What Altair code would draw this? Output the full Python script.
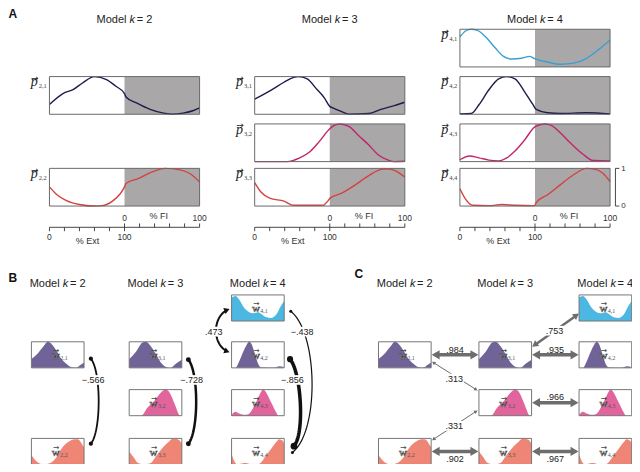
import math
import altair as alt
import pandas as pd

# ---------------------------------------------------------------- data
MODEL_K = [2, 3, 4]

# Panel A profiles: position in % of the panel (0-50 = % Ext, 50-100 = % FI), value 0..1
p21_x = [0, 9, 16, 22, 30, 38, 44, 50, 51, 58, 67, 76, 82, 89, 96, 100]
p21_v = [0.26, 0.55, 0.66, 0.83, 1.0, 0.92, 0.75, 0.55, 0.46, 0.30, 0.13, 0.03, 0.0, 0.03, 0.10, 0.17]
p22_x = [0, 5, 11, 20, 29, 35, 42, 47, 50, 51, 59, 68, 77, 87, 94, 100]
p22_v = [0.51, 0.30, 0.15, 0.04, 0.0, 0.01, 0.13, 0.32, 0.51, 0.60, 0.73, 0.90, 1.0, 0.96, 0.85, 0.64]
p31_x = [0, 11, 19.5, 26, 29, 35, 41, 46.5, 50, 52, 58, 63, 76, 84, 93, 100]
p31_v = [0.40, 0.64, 0.85, 0.98, 1.0, 0.94, 0.68, 0.43, 0.21, 0.17, 0.07, 0.0, 0.02, 0.13, 0.23, 0.32]
p32_x = [0, 21.6, 30, 37, 43, 50, 53, 57, 63, 69, 76, 82, 89, 93, 100]
p32_v = [0, 0, 0.10, 0.27, 0.53, 0.87, 0.96, 1.0, 0.93, 0.70, 0.44, 0.19, 0.04, 0, 0.01]
p33_x = [0, 4, 10, 19.5, 26, 45.5, 48.7, 50.2, 58, 67, 76, 85.5, 90, 95, 100]
p33_v = [0.62, 0.38, 0.21, 0.13, 0.02, 0.02, 0.13, 0.21, 0.34, 0.56, 0.81, 0.98, 0.98, 0.91, 0.77]
p41_x = [0, 4, 7.4, 11.7, 17, 23.6, 29, 34.5, 41, 46.4, 49.7, 58.4, 67, 75.7, 84.4, 93, 100]
p41_v = [0.80, 0.96, 1.0, 0.97, 0.80, 0.50, 0.28, 0.21, 0.23, 0.28, 0.22, 0.13, 0.07, 0.10, 0.23, 0.48, 0.71]
p42_x = [0, 7.4, 12.8, 19.3, 25.8, 31.2, 36.7, 43.2, 48.6, 50.8, 58.4, 67, 84.4, 100]
p42_v = [0.01, 0.02, 0.26, 0.65, 0.94, 1.0, 0.94, 0.59, 0.26, 0.13, 0.04, 0.02, 0.04, 0.01]
p43_x = [0, 6.3, 12.8, 19.3, 25.8, 31.2, 36.7, 43.2, 50.1, 56.2, 60.5, 67, 73.5, 82.2, 88.7, 100]
p43_v = [0.05, 0.15, 0.10, 0.04, 0.02, 0.10, 0.28, 0.58, 0.93, 1.0, 0.97, 0.76, 0.50, 0.19, 0.03, 0.02]
p44_x = [0, 4, 8.5, 19.3, 28, 36.7, 49.7, 50.8, 58.4, 67, 75.7, 84.4, 89.8, 95.2, 100]
p44_v = [0.46, 0.17, 0.02, 0.01, 0.04, 0.02, 0.01, 0.09, 0.30, 0.57, 0.83, 1.0, 0.98, 0.87, 0.65]

# Panels B/C weight shapes: position in % of the thumbnail, value 0..1
w21_x = [0, 11, 23.5, 31, 39, 48, 57, 67, 76, 85, 93, 100]
w21_v = [0.34, 0.53, 0.84, 1.0, 0.90, 0.65, 0.34, 0.15, 0.03, 0.01, 0.11, 0.21]
w22_x = [0, 11, 23.5, 36, 48, 57, 69, 82, 88, 96, 100]
w22_v = [0.35, 0.10, 0.0, 0.06, 0.29, 0.60, 0.85, 0.97, 0.97, 0.79, 0.66]
w31_x = [0, 13.6, 26, 32, 41, 51, 60, 72, 78, 88, 100]
w31_v = [0.33, 0.64, 0.98, 1.0, 0.83, 0.52, 0.21, 0.02, 0.0, 0.15, 0.31]
w32_x = [0, 22.8, 35, 47.5, 60, 69, 75, 81.5, 87.7, 94, 97, 100]
w32_v = [0, 0, 0.31, 0.56, 0.88, 1.0, 0.94, 0.69, 0.38, 0.06, 0, 0]
w33_x = [0, 7.4, 16.7, 29, 41, 50.6, 60, 72, 84, 93, 100]
w33_v = [0.5, 0.31, 0.06, 0.0, 0.06, 0.31, 0.56, 0.81, 1.0, 0.96, 0.81]
w41_x = [0, 7.4, 13.6, 22.8, 32, 41.4, 50.6, 56.8, 66, 75.3, 84.6, 92.6, 100]
w41_v = [0.90, 0.96, 0.84, 0.54, 0.36, 0.30, 0.34, 0.27, 0.14, 0.12, 0.24, 0.54, 0.78]
w42_x = [0, 7.4, 13.6, 22.8, 29, 33.3, 38.3, 44.4, 50.6, 56.8, 81.5, 90.7, 100]
w42_v = [0, 0, 0.21, 0.65, 0.90, 1.0, 0.90, 0.53, 0.15, 0.02, 0.01, 0.06, 0.02]
w43_x = [0, 7.4, 13.6, 22.8, 32, 41.4, 50.6, 56.8, 60, 66, 72.2, 78.4, 84.6, 89, 100]
w43_v = [0.03, 0.15, 0.09, 0.04, 0.06, 0.31, 0.69, 0.94, 1.0, 0.88, 0.63, 0.38, 0.13, 0, 0]
w44_x = [0, 4.3, 10.5, 26, 38.3, 50.6, 56.8, 66, 75.3, 84.6, 90.7, 97, 100]
w44_v = [0.41, 0.16, 0.01, 0.06, 0.01, 0.01, 0.10, 0.35, 0.60, 0.85, 0.97, 0.91, 0.79]

# correlations
B_LABELS = ["\u2212.566", "\u2212.728", "\u2212.856", "\u2212.438", ".473"]
C_LABELS = [".984", ".935", ".966", ".902", ".967", ".753", ".313", ".331"]

EXT_TICKS = ["0", "100"]
FI_TICKS = ["0", "100"]
SCALE_TICKS = ["0", "1"]

# ---------------------------------------------------------------- styles / layout
NAVY, MAG, RED, CYAN = "#1e1c4c", "#c2256d", "#d6403f", "#3a9fd0"
PURP, PINK, SALM, CYANF = "#6f6397", "#e2649d", "#ee8575", "#4cb7e1"
SHADE, BOXLINE = "#a9a7a8", "#6a6a6a"
BLACK, GREYARROW = "#111111", "#6d6d6d"
SANS, SERIF, SYM = "Liberation Sans", "Liberation Serif", "DejaVu Sans"

A_comps = [(2, 1, 1, p21_x, p21_v, NAVY), (2, 2, 3, p22_x, p22_v, RED),
           (3, 1, 1, p31_x, p31_v, NAVY), (3, 2, 2, p32_x, p32_v, MAG), (3, 3, 3, p33_x, p33_v, RED),
           (4, 1, 0, p41_x, p41_v, CYAN), (4, 2, 1, p42_x, p42_v, NAVY),
           (4, 3, 2, p43_x, p43_v, MAG), (4, 4, 3, p44_x, p44_v, RED)]
W_comps = [(2, 1, 1, w21_x, w21_v, PURP), (2, 2, 3, w22_x, w22_v, SALM),
           (3, 1, 1, w31_x, w31_v, PURP), (3, 2, 2, w32_x, w32_v, PINK), (3, 3, 3, w33_x, w33_v, SALM),
           (4, 1, 0, w41_x, w41_v, CYANF), (4, 2, 1, w42_x, w42_v, PURP),
           (4, 3, 2, w43_x, w43_v, PINK), (4, 4, 3, w44_x, w44_v, SALM)]

A_LEFT = {2: 42.5, 3: 253.0, 4: 463.5}
A_W, A_H = 154.0, 39.0
A_TOP = [22.0, 71.0, 120.0, 166.0]
AXIS_Y = 227.0
B_LEFT = {2: 24.0, 3: 124.3, 4: 229.3}
C_LEFT = {2: 380.0, 3: 483.0, 4: 585.7}
S_W, S_H = 54.0, 27.0
S_TOP = [297.0, 345.5, 395.0, 445.5]


def boxA(k, row):
    x0, y0 = A_LEFT[k], A_TOP[row]
    return x0, y0, x0 + A_W, y0 + A_H


def boxS(left, k, row):
    x0, y0 = left[k], S_TOP[row]
    return x0, y0, x0 + S_W, y0 + S_H


row_of = {(k, i): row for k, i, row, *_ in W_comps}

texts = []


def T(st, t, x, y, s):
    texts.append(dict(st=st, t=t, x=x, y=y, s=s))


# ---------------------------------------------------------------- panel A
shade, boxesA, plines, rules = [], [], [], []
for k, i, row, xs_, vs_, col in A_comps:
    x0, y0, x1, y1 = boxA(k, row)
    shade.append(dict(x=x0 + A_W / 2, x2=x1, y=y0, y2=y1))
    boxesA.append(dict(x=x0, x2=x1, y=y0, y2=y1))
    for j, (px, v) in enumerate(zip(xs_, vs_)):
        plines.append(dict(id=f"p{k}{i}", i=j, x=x0 + px / 100 * A_W, y=y1 - v * A_H, c=col))
    T("pglyph", "p", x0 - 15.5, y0 + 10, 14)
    T("vec", "\u2192", x0 - 15, y0 + 1.5, 9)
    T("psub", f"{k},{i}", x0 - 11, y0 + 12, 6.5)

for k in MODEL_K:
    x0 = A_LEFT[k]
    mid = x0 + A_W / 2
    x1 = x0 + A_W
    rules.append(dict(x=x0, x2=x1, y=AXIS_Y, y2=AXIS_Y))
    for j in range(6):
        rules.append(dict(x=x0 + j * A_W / 10, x2=x0 + j * A_W / 10, y=AXIS_Y, y2=AXIS_Y + 4))
        rules.append(dict(x=mid + j * A_W / 10, x2=mid + j * A_W / 10, y=AXIS_Y - 4, y2=AXIS_Y))
    T("axis", EXT_TICKS[0], x0, AXIS_Y + 10.5, 8.5)
    T("axis", EXT_TICKS[1], mid, AXIS_Y + 10.5, 8.5)
    T("axis", "% Ext", x0 + 39, AXIS_Y + 14, 9)
    T("axis", FI_TICKS[0], mid, AXIS_Y - 9.5, 8.5)
    T("axis", FI_TICKS[1], x1, AXIS_Y - 9.5, 8.5)
    T("axis", "% FI", mid + 35, AXIS_Y - 12, 9)

# scale bar next to the last panel
sb_x = 623.0
y_top, y_bot = A_TOP[3], A_TOP[3] + A_H
rules += [dict(x=sb_x, x2=sb_x, y=y_top, y2=y_bot),
          dict(x=sb_x, x2=sb_x + 4, y=y_top, y2=y_top),
          dict(x=sb_x, x2=sb_x + 4, y=y_bot, y2=y_bot)]
T("scale", SCALE_TICKS[1], sb_x + 6, y_top + 1, 8)
T("scale", SCALE_TICKS[0], sb_x + 6, y_bot, 8)


# titles
def title(cx, y, k):
    T("title_r", "Model", cx + 3, y, 11)
    T("title_k", "k", cx + 9, y, 11)
    T("title_l", f"= {k}", cx + 13.5, y, 11)


for k in MODEL_K:
    title(A_LEFT[k] + A_W / 2 - 1, 12, k)
    title(B_LEFT[k] + S_W / 2 - 1, 285.7, k)
    title(C_LEFT[k] + S_W / 2 - 1, 285.7, k)
T("panel", "A", 0.5, 6.5, 12)
T("panel", "B", 0.5, 279, 12)
T("panel", "C", 355.5, 275, 12)

# ---------------------------------------------------------------- panels B and C thumbnails
areas, boxesS = [], []
for left, tag in [(B_LEFT, "B"), (C_LEFT, "C")]:
    for k, i, row, xs_, vs_, col in W_comps:
        x0, y0, x1, y1 = boxS(left, k, row)
        boxesS.append(dict(x=x0, x2=x1, y=y0, y2=y1))
        for j, (px, v) in enumerate(zip(xs_, vs_)):
            areas.append(dict(id=f"{tag}{k}{i}", x=x0 + px / 100 * S_W, y=y1 - v * S_H, y0=y1, c=col))
        cx, cy = (x0 + x1) / 2, (y0 + y1) / 2
        T("wglyph", "w", cx - 2, cy + 4.5, 11)
        T("wvec", "\u2192", cx - 1.5, cy - 4, 7.5)
        T("wsub", f"{k},{i}", cx + 2.5, cy + 5.5, 6)

# ---------------------------------------------------------------- connectors
links, heads, dots, bgs = [], [], [], []


def cubic(p0, p2, b, n=48):
    dy = p2[1] - p0[1]
    c1 = (p0[0] + b * 4 / 3, p0[1] + dy * 0.15)
    c2 = (p2[0] + b * 4 / 3, p2[1] - dy * 0.15)
    pts = []
    for s in range(n + 1):
        t = s / n
        a, bb, cc, d = (1 - t) ** 3, 3 * t * (1 - t) ** 2, 3 * t * t * (1 - t), t ** 3
        pts.append((a * p0[0] + bb * c1[0] + cc * c2[0] + d * p2[0],
                    a * p0[1] + bb * c1[1] + cc * c2[1] + d * p2[1]))
    return pts, c1, c2


def unit(a, b):
    dx, dy = b[0] - a[0], b[1] - a[1]
    L = math.hypot(dx, dy)
    return dx / L, dy / L


def head(tip, d, sz, col):
    r = math.sqrt(sz) / 2
    h = math.sqrt(3) * r / 2
    heads.append(dict(x=tip[0] - h * d[0], y=tip[1] - h * d[1],
                      ang=math.degrees(math.atan2(d[0], -d[1])) % 360, sz=sz, c=col))
    return h


def label(text, x, y, bg):
    T("corr", text, x, y, 9)
    if bg:
        w = 4.6 * len(text) + 1
        bgs.append(dict(x=x - w / 2, x2=x + w / 2, y=y - 5, y2=y + 5))


def add_line(pid, pts, col, lw):
    for j, (x, y) in enumerate(pts):
        links.append(dict(id=pid, i=j, x=x, y=y, c=col, lw=lw))


# panel B: (label, k, from i, to i, start offset, end offset, bulge, width, dot sizes, label offset)
B_geo = [(B_LABELS[0], 2, 1, 2, (7, 4), (7, -8), 8, 1.8, (18, 18), (2.3, 22)),
         (B_LABELS[1], 3, 1, 3, (6.7, 5), (6.7, -8), 8, 2.5, (24, 24), (3.3, 21)),
         (B_LABELS[2], 4, 2, 4, (6, 4.5), (10, -5.5), 8.5, 3.5, (38, 45), (2.4, 21.5)),
         (B_LABELS[3], 4, 1, 4, (6.7, 3.5), (8.4, 1), 21, 1.2, (9, 9), (11.7, 21))]
for lab, k, ia, ib, oa, ob, bul, lw, dsz, lo in B_geo:
    xa0, ya0, xa1, ya1 = boxS(B_LEFT, k, row_of[(k, ia)])
    xb0, yb0, xb1, yb1 = boxS(B_LEFT, k, row_of[(k, ib)])
    p0 = (xa1 + oa[0], (ya0 + ya1) / 2 + oa[1])
    p2 = (xb1 + ob[0], (yb0 + yb1) / 2 + ob[1])
    pts, _, _ = cubic(p0, p2, bul)
    add_line("B" + lab, pts, BLACK, lw)
    dots.append(dict(x=p0[0], y=p0[1], sz=dsz[0]))
    dots.append(dict(x=p2[0], y=p2[1], sz=dsz[1]))
    label(lab, p0[0] + lo[0], p0[1] + lo[1], True)

# panel B double arrow .473
xa0, ya0, xa1, ya1 = boxS(B_LEFT, 4, 0)
xb0, yb0, xb1, yb1 = boxS(B_LEFT, 4, 1)
p0 = (xa0 - 3, (ya0 + ya1) / 2 + 1.5)
p2 = (xb0 - 3, (yb0 + yb1) / 2 - 3)
pts, c1, c2 = cubic(p0, p2, -13)
h0 = head(p0, unit(c1, p0), 40, BLACK)
h2 = head(p2, unit(c2, p2), 40, BLACK)
pts = [p for p in pts if math.hypot(p[0] - p0[0], p[1] - p0[1]) > h0 and math.hypot(p[0] - p2[0], p[1] - p2[1]) > h2]
add_line("B473", pts, BLACK, 2.0)
label(B_LABELS[4], p0[0] - 15.3, p0[1] + 23, True)


# panel C: straight double arrows
def cpt(k, row, where):
    x0, y0, x1, y1 = boxS(C_LEFT, k, row)
    cy = (y0 + y1) / 2
    return {"r": (x1 + 2, cy), "l": (x0 - 2, cy)}[where]


x30, y30, x31, y31 = boxS(C_LEFT, 3, 1)
x40, y40, x41, y41 = boxS(C_LEFT, 4, 0)
x20, y20, x21, y21 = boxS(C_LEFT, 2, 1)
x32, y32, x33, y33 = boxS(C_LEFT, 3, 2)
x22, y22, x23, y23 = boxS(C_LEFT, 2, 3)
C_geo = [(C_LABELS[0], cpt(2, 1, "r"), cpt(3, 1, "l"), 3.5, 85, (0, -5.5), False),
         (C_LABELS[1], cpt(3, 1, "r"), cpt(4, 1, "l"), 3.5, 85, (0, -5.5), False),
         (C_LABELS[2], cpt(3, 2, "r"), cpt(4, 2, "l"), 3.5, 85, (0, -6), False),
         (C_LABELS[3], cpt(2, 3, "r"), cpt(3, 3, "l"), 3.5, 85, (0, 7.5), False),
         (C_LABELS[4], cpt(3, 3, "r"), cpt(4, 3, "l"), 3.5, 85, (0, 7.5), False),
         (C_LABELS[5], (x31 + 1.5, y30 + 4.5), (x40 - 1, (y40 + y41) / 2 + 6.5), 2.5, 50, (-1, 0.5), True),
         (C_LABELS[6], (x21 + 1.5, y21 - 6), (x32 - 2, y32 + 0.5), 1.0, 16, (-0.5, 2.5), True),
         (C_LABELS[7], (x32 - 2, y33 - 5), (x21 + 1.5, y22 + 1.5), 1.0, 16, (-0.5, 0.5), True)]
for lab, pa, pb, lw, hs, lo, bg in C_geo:
    d = unit(pa, pb)
    ha = head(pa, (-d[0], -d[1]), hs, GREYARROW)
    hb = head(pb, d, hs, GREYARROW)
    s = (pa[0] + d[0] * ha, pa[1] + d[1] * ha)
    e = (pb[0] - d[0] * hb, pb[1] - d[1] * hb)
    add_line("C" + lab, [s, e], GREYARROW, lw)
    label(lab, (pa[0] + pb[0]) / 2 + lo[0], (pa[1] + pb[1]) / 2 + lo[1], bg)

# ---------------------------------------------------------------- chart
XS = alt.Scale(domain=[0, 640], nice=False, zero=False)
YS = alt.Scale(domain=[0, 472], nice=False, zero=False, reverse=True)


def ex(f="x"):
    return alt.X(f + ":Q", scale=XS, axis=None)


def ey(f="y"):
    return alt.Y(f + ":Q", scale=YS, axis=None)


def rects(rows, **kw):
    return alt.Chart(pd.DataFrame(rows)).mark_rect(**kw).encode(
        x=ex(), x2=alt.X2("x2:Q"), y=ey(), y2=alt.Y2("y2:Q"))


layers = []
layers.append(rects(shade, color=SHADE))
layers.append(alt.Chart(pd.DataFrame(plines)).mark_line(interpolate="monotone", strokeWidth=1.4).encode(
    x=ex(), y=ey(), color=alt.Color("c:N", scale=None), detail="id:N", order="i:Q"))
layers.append(rects(boxesA, fillOpacity=0, stroke=BOXLINE, strokeWidth=1))
layers.append(alt.Chart(pd.DataFrame(rules)).mark_rule(color="#333333", strokeWidth=0.9).encode(
    x=ex(), x2=alt.X2("x2:Q"), y=ey(), y2=alt.Y2("y2:Q")))
layers.append(alt.Chart(pd.DataFrame(areas)).mark_area(interpolate="monotone").encode(
    x=ex(), y=alt.Y("y:Q", scale=YS, axis=None, stack=None), y2=alt.Y2("y0:Q"),
    color=alt.Color("c:N", scale=None), detail="id:N"))
layers.append(rects(boxesS, fillOpacity=0, stroke="#777777", strokeWidth=1))
layers.append(alt.Chart(pd.DataFrame(links)).mark_line().encode(
    x=ex(), y=ey(), color=alt.Color("c:N", scale=None), detail="id:N", order="i:Q",
    strokeWidth=alt.StrokeWidth("lw:Q", scale=None)))
layers.append(alt.Chart(pd.DataFrame(heads)).mark_point(shape="triangle", filled=True, opacity=1).encode(
    x=ex(), y=ey(), angle=alt.Angle("ang:Q", scale=None), size=alt.Size("sz:Q", scale=None),
    color=alt.Color("c:N", scale=None)))
layers.append(alt.Chart(pd.DataFrame(dots)).mark_circle(color=BLACK, opacity=1).encode(
    x=ex(), y=ey(), size=alt.Size("sz:Q", scale=None)))
layers.append(rects(bgs, color="white"))

STYLES = {
    "panel": dict(font=SANS, fontWeight="bold", align="left", baseline="middle", color="#111111"),
    "title_r": dict(font=SANS, align="right", baseline="middle", color="#222222"),
    "title_k": dict(font=SANS, fontStyle="italic", align="center", baseline="middle", color="#222222"),
    "title_l": dict(font=SANS, align="left", baseline="middle", color="#222222"),
    "axis": dict(font=SANS, align="center", baseline="middle", color="#333333"),
    "scale": dict(font=SANS, align="left", baseline="middle", color="#333333"),
    "corr": dict(font=SANS, align="center", baseline="middle", color="#222222"),
    "pglyph": dict(font=SERIF, fontStyle="italic", align="center", baseline="alphabetic", color="#222222"),
    "vec": dict(font=SYM, align="center", baseline="middle", color="#222222"),
    "psub": dict(font=SERIF, align="left", baseline="alphabetic", color="#444444"),
    "wglyph": dict(font=SERIF, align="center", baseline="alphabetic", color="#f2f2f2",
                   stroke="#3a3a3a", strokeWidth=0.5),
    "wvec": dict(font=SYM, align="center", baseline="middle", color="#444444"),
    "wsub": dict(font=SERIF, align="left", baseline="alphabetic", color="#555555"),
}
tdf = pd.DataFrame(texts)
for st, kw in STYLES.items():
    sub = tdf[tdf.st == st]
    layers.append(alt.Chart(sub).mark_text(**kw).encode(
        x=ex(), y=ey(), text="t:N", size=alt.Size("s:Q", scale=None)))

chart = alt.layer(*layers).properties(
    width=624, height=456, padding=0, autosize=alt.AutoSizeParams(type="none")
).configure_view(strokeWidth=0)

chart.save("out.html", embed_options={"renderer": "svg", "actions": False})
